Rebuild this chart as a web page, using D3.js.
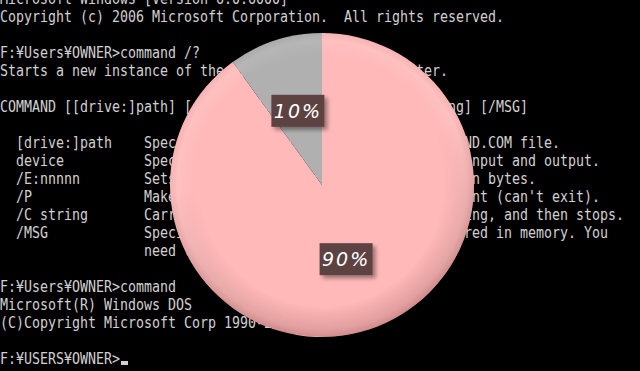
<!DOCTYPE html>
<html>
<head>
<meta charset="utf-8">
<script src="https://cdn.jsdelivr.net/npm/d3@7"></script>
<style>
  html, body { margin: 0; padding: 0; background: #000; }
  svg { display: block; }
</style>
</head>
<body>
<div id="chart"></div>
<script>
// console text behind the chart, one entry per row: [column, text]
var consoleLines = [
  [0, 'Microsoft Windows [Version 6.0.6000]'],
  [0, 'Copyright (c) 2006 Microsoft Corporation.  All rights reserved.'],
  [0, ''],
  [0, 'F:¥Users¥OWNER>command /?'],
  [0, 'Starts a new instance of the MS-DOS command interpreter.'],
  [0, ''],
  [0, 'COMMAND [[drive:]path] [device] [/E:nnnnn] [/P] [/C string] [/MSG]'],
  [0, ''],
  [2, '[drive:]path'], [2, 'device'], [2, '/E:nnnnn'], [2, '/P'], [2, '/C string'], [2, '/MSG'],
  [0, ''],
  [0, ''],
  [0, 'F:¥Users¥OWNER>command'],
  [0, 'Microsoft(R) Windows DOS'],
  [0, '(C)Copyright Microsoft Corp 1990-2001.'],
  [0, ''],
  [0, 'F:¥USERS¥OWNER>']
];
// second column of the help rows (rows 8..14)
var helpText = [
  'Specifies the directory containing COMMAND.COM file.',
  'Specifies the device to use for command input and output.',
  'Sets the initial environment size to nnnnn bytes.',
  'Makes the new command interpreter permanent (can\'t exit).',
  'Carries out the command specified by string, and then stops.',
  'Specifies that all error messages be stored in memory. You',
  'need to specify /P with this switch.'
];

// pie data
var categories = ['A', 'B'];
var values = [90, 10];
var labels = ['90%', '10%'];
var colors = ['#ffb9b9', '#b0b0b0'];

var width = 640, height = 371;
var CHAR_W = 8, ROW_H = 18;

var svg = d3.select('#chart').append('svg')
  .attr('width', width)
  .attr('height', height);

svg.append('rect').attr('width', width).attr('height', height).attr('fill', '#000');

// console background
var con = svg.append('g')
  .attr('font-family', '"DejaVu Sans Mono", monospace')
  .attr('font-size', 15.5)
  .attr('fill', '#d0d0d0');

function conText(col, row, str) {
  if (!str) return;
  con.append('text')
    .attr('x', col * CHAR_W)
    .attr('y', 4 + row * ROW_H)
    .attr('textLength', str.length * CHAR_W)
    .attr('lengthAdjust', 'spacingAndGlyphs')
    .style('white-space', 'pre')
    .text(str);
}

consoleLines.forEach(function(d, i) { conText(d[0], i, d[1]); });
helpText.forEach(function(t, i) { conText(18, 8 + i, t); });

// cursor
con.append('rect')
  .attr('x', 15 * CHAR_W + 1).attr('y', 4 + 20 * ROW_H - 3)
  .attr('width', 7).attr('height', 4);

// pie
var cx = 322, cy = 185, R = 152;

var defs = svg.append('defs');

// gradients are in the slices' own (translated) user space, so centre at 0,0
colors.forEach(function(c, i) {
  var base = d3.color(c);
  var g = defs.append('radialGradient')
    .attr('id', 'grad' + i)
    .attr('gradientUnits', 'userSpaceOnUse')
    .attr('cx', 0).attr('cy', 0).attr('r', R);
  g.append('stop').attr('offset', 0).attr('stop-color', base.formatHex());
  g.append('stop').attr('offset', 0.86).attr('stop-color', base.formatHex());
  g.append('stop').attr('offset', 0.95).attr('stop-color', base.brighter(0.1).formatHex());
  g.append('stop').attr('offset', 1).attr('stop-color', base.darker(0.1).formatHex());
});

// darker rim toward the bottom, faded in only near the edge
var rimGrad = defs.append('linearGradient')
  .attr('id', 'rimShade')
  .attr('x1', 0).attr('y1', 0).attr('x2', 0.25).attr('y2', 1);
rimGrad.append('stop').attr('offset', 0).attr('stop-color', '#000').attr('stop-opacity', 0);
rimGrad.append('stop').attr('offset', 0.5).attr('stop-color', '#000').attr('stop-opacity', 0);
rimGrad.append('stop').attr('offset', 1).attr('stop-color', '#6a1a1a').attr('stop-opacity', 0.26);

var rimMaskGrad = defs.append('radialGradient')
  .attr('id', 'rimMaskGrad')
  .attr('gradientUnits', 'userSpaceOnUse')
  .attr('cx', 0).attr('cy', 0).attr('r', R);
rimMaskGrad.append('stop').attr('offset', 0).attr('stop-color', '#000');
rimMaskGrad.append('stop').attr('offset', 0.8).attr('stop-color', '#000');
rimMaskGrad.append('stop').attr('offset', 1).attr('stop-color', '#fff');

defs.append('mask').attr('id', 'rimMask')
  .attr('maskUnits', 'userSpaceOnUse')
  .attr('x', -R).attr('y', -R).attr('width', 2 * R).attr('height', 2 * R)
  .append('circle').attr('r', R).attr('fill', 'url(#rimMaskGrad)');

var shadow = defs.append('filter').attr('id', 'boxShadow')
  .attr('x', '-30%').attr('y', '-30%').attr('width', '160%').attr('height', '160%');
shadow.append('feDropShadow')
  .attr('dx', 3).attr('dy', 3).attr('stdDeviation', 2)
  .attr('flood-color', '#000').attr('flood-opacity', 0.4);

var pie = d3.pie().sort(null).value(function(d) { return d; });
var arc = d3.arc().innerRadius(0).outerRadius(R);
var labelArc = d3.arc().innerRadius(78).outerRadius(78);

var arcs = pie(values);

var pg = svg.append('g').attr('transform', 'translate(' + cx + ',' + cy + ')');

pg.selectAll('path.slice')
  .data(arcs)
  .enter().append('path')
  .attr('class', 'slice')
  .attr('d', arc)
  .attr('fill', function(d, i) { return 'url(#grad' + i + ')'; });

pg.append('circle')
  .attr('r', R)
  .attr('fill', 'url(#rimShade)')
  .attr('mask', 'url(#rimMask)');

// labels
var lbl = pg.selectAll('g.lbl')
  .data(arcs)
  .enter().append('g')
  .attr('class', 'lbl')
  .attr('transform', function(d) {
    var c = labelArc.centroid(d);
    return 'translate(' + c[0] + ',' + c[1] + ')';
  });

lbl.append('rect')
  .attr('x', -26.5).attr('y', -16)
  .attr('width', 53).attr('height', 32)
  .attr('fill', '#5d4343')
  .attr('filter', 'url(#boxShadow)');

lbl.append('text')
  .attr('text-anchor', 'middle')
  .attr('dy', '0.36em')
  .attr('font-family', '"DejaVu Sans", sans-serif')
  .attr('font-style', 'italic')
  .attr('font-size', 19)
  .attr('letter-spacing', 2)
  .attr('fill', '#fff')
  .text(function(d, i) { return labels[i]; });
</script>
</body>
</html>
